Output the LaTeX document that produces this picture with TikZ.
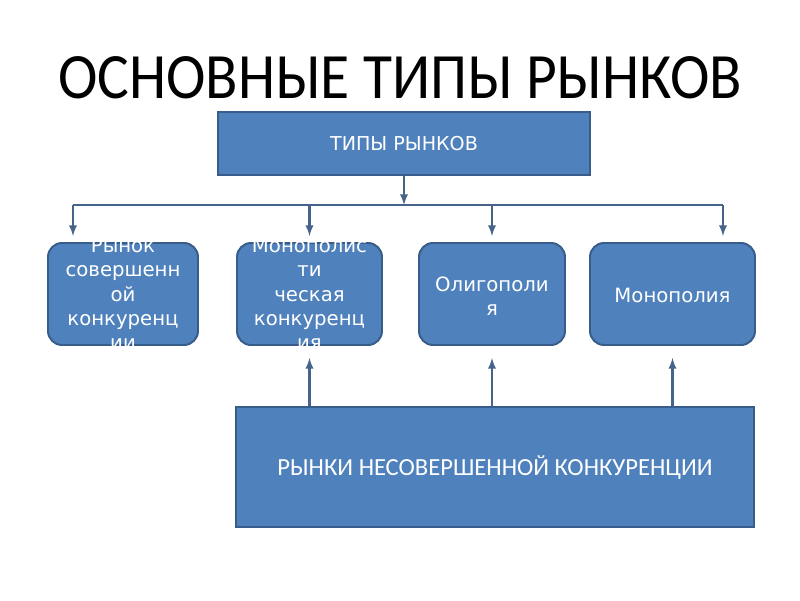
\documentclass[tikz,border=0pt]{standalone}
\usepackage{fontspec}
\setmainfont{Carlito}
\newfontfamily\boxfont{DejaVu Sans}
\definecolor{boxblue}{HTML}{4F81BD}
\definecolor{boxedge}{HTML}{385D8A}
\definecolor{arrowcol}{HTML}{46648A}
\tikzset{
  rbox/.style={draw=boxedge, fill=boxblue, line width=1.4pt, rounded corners=10pt,
    minimum height=2.55cm, inner sep=0pt},
  sbox/.style={draw=boxedge, fill=boxblue, line width=1.4pt, inner sep=0pt},
  boxtext/.style={text=white, align=center, inner sep=0pt,
    font=\boxfont\fontsize{14}{17.2}\selectfont},
  conn/.style={draw=arrowcol, line width=1.6pt},
}
\begin{document}
\begin{tikzpicture}[>=latex]
    \useasboundingbox (0,0) rectangle (20,15);
    % Заголовок
    \node[xscale=0.92] (title) at (10,13.05) {\fontsize{46}{50}\selectfont ОСНОВНЫЕ ТИПЫ РЫНКОВ};
    \node[sbox, minimum width=9.3cm, minimum height=1.575cm] (top) at (10.1,11.41) {};
    \node[text=white, font=\boxfont\fontsize{13.6}{16}\selectfont] (toptext) at (top) {ТИПЫ РЫНКОВ};
    % Четыре типа рынков
    \node[rbox, minimum width=3.75cm] (b1) at (3.075,7.65) {};
    \node[rbox, minimum width=3.625cm] (b2) at (7.7375,7.65) {};
    \node[rbox, minimum width=3.65cm] (b3) at (12.3,7.65) {};
    \node[rbox, minimum width=4.125cm] (b4) at (16.8125,7.65) {};
    \node[boxtext] (t1) at (b1) {Рынок\\совершенн\\ой\\конкуренц\\ии};
    \node[boxtext] (t2) at (b2) {Монополис\\ти\\ческая\\конкуренц\\ия};
    \node[boxtext] (t3) at ([yshift=-0.05cm]b3) {Олигополи\\я};
    \node[boxtext] (t4) at ([yshift=-0.03cm]b4) {Монополия};
    \node[sbox, minimum width=12.95cm, minimum height=3cm] (bot) at (12.375,3.325) {};
    \node[text=white, font=\fontsize{17.5}{20}\selectfont] (bottext) at (bot) {РЫНКИ НЕСОВЕРШЕННОЙ КОНКУРЕНЦИИ};
    % Соединительные линии
    \coordinate (h0) at (10.1,9.875);
    \coordinate (h1) at (1.825,9.875);
    \coordinate (h4) at (18.075,9.875);
    \draw[conn, line width=0.9pt] (h1) -- (h4);
    \draw[conn, ->] (top.south) -- (h0);
    \draw[conn, ->] (h1) -- ([yshift=0.15cm]b1.north -| h1);
    \draw[conn, ->] (h1 -| b2) -- ([yshift=0.15cm]b2.north);
    \draw[conn, ->] (h1 -| b3) -- ([yshift=0.15cm]b3.north);
    \draw[conn, ->] (h4) -- ([yshift=0.15cm]b4.north -| h4);
    \foreach \b in {b2,b3,b4} {
        \draw[conn, ->] (bot.north -| \b) -- ([yshift=-0.3cm]\b.south);
    }
\end{tikzpicture}
\end{document}
